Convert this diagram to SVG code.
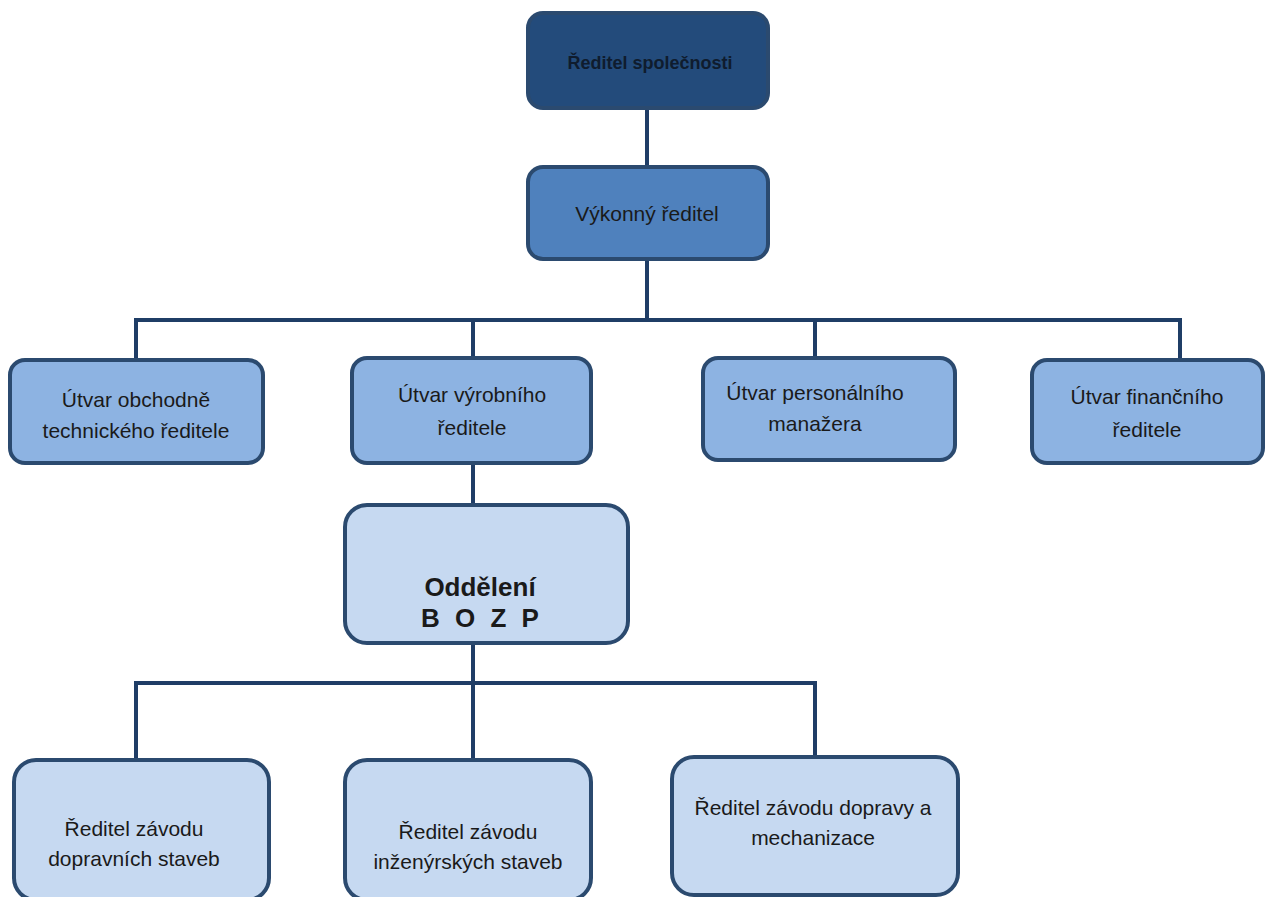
<svg xmlns="http://www.w3.org/2000/svg" width="1272" height="897" viewBox="0 0 1272 897">
<style>
.box{stroke:#2b4a6f;stroke-width:4}
.l0{fill:#234b7b}
.l1{fill:#4f81bd}
.l2{fill:#8db3e2}
.l3{fill:#c6d9f1}
text{font-family:"Liberation Sans",Arial,sans-serif;font-size:21px;fill:#1a1a1a;text-anchor:middle}
.b{font-weight:bold}
.conn{fill:none;stroke:#1f3d66;stroke-width:4}
</style>
<rect width="1272" height="897" fill="#ffffff"/>
<g id="connectors">
<path class="conn" d="M647 108V168"/>
<path class="conn" d="M647 259V320"/>
<path class="conn" d="M136 360V320H1180V360"/>
<path class="conn" d="M473 320V358"/>
<path class="conn" d="M815 320V358"/>
<path class="conn" d="M473 463V505"/>
<path class="conn" d="M473 643V760"/>
<path class="conn" d="M136 760V683H815V757"/>
</g>
<g id="n-reditel-spolecnosti">
<rect class="box l0" x="528" y="13" width="240" height="95" rx="15"/>
<text class="b" x="650" y="69" style="font-size:18px;fill:#0f1c2e">Ředitel společnosti</text>
</g>
<g id="n-vykonny-reditel">
<rect class="box l1" x="528" y="167" width="240" height="92" rx="15"/>
<text x="647" y="221">Výkonný ředitel</text>
</g>
<g id="n-obchodne-technicky">
<rect class="box l2" x="10" y="360" width="253" height="103" rx="15"/>
<text x="136" y="407">Útvar obchodně</text>
<text x="136" y="438">technického ředitele</text>
</g>
<g id="n-vyrobni">
<rect class="box l2" x="352" y="358" width="239" height="105" rx="15"/>
<text x="472" y="402">Útvar výrobního</text>
<text x="472" y="435">ředitele</text>
</g>
<g id="n-personalni">
<rect class="box l2" x="703" y="358" width="252" height="102" rx="15"/>
<text x="815" y="400">Útvar personálního</text>
<text x="815" y="431">manažera</text>
</g>
<g id="n-financni">
<rect class="box l2" x="1032" y="360" width="231" height="103" rx="15"/>
<text x="1147" y="404">Útvar finančního</text>
<text x="1147" y="437">ředitele</text>
</g>
<g id="n-bozp">
<rect class="box l3" x="345" y="505" width="283" height="138" rx="22"/>
<text class="b" x="480" y="596" style="font-size:26px">Oddělení</text>
<text class="b" x="482" y="627" style="font-size:26px;letter-spacing:4px">B O Z P</text>
</g>
<g id="n-dopravni-stavby">
<rect class="box l3" x="14" y="760" width="255" height="140" rx="22"/>
<text x="134" y="836">Ředitel závodu</text>
<text x="134" y="866">dopravních staveb</text>
</g>
<g id="n-inzenyrske-stavby">
<rect class="box l3" x="345" y="760" width="246" height="140" rx="22"/>
<text x="468" y="839">Ředitel závodu</text>
<text x="468" y="869">inženýrských staveb</text>
</g>
<g id="n-doprava-mechanizace">
<rect class="box l3" x="672" y="757" width="286" height="138" rx="22"/>
<text x="813" y="815">Ředitel závodu dopravy a</text>
<text x="813" y="845">mechanizace</text>
</g>
</svg>
